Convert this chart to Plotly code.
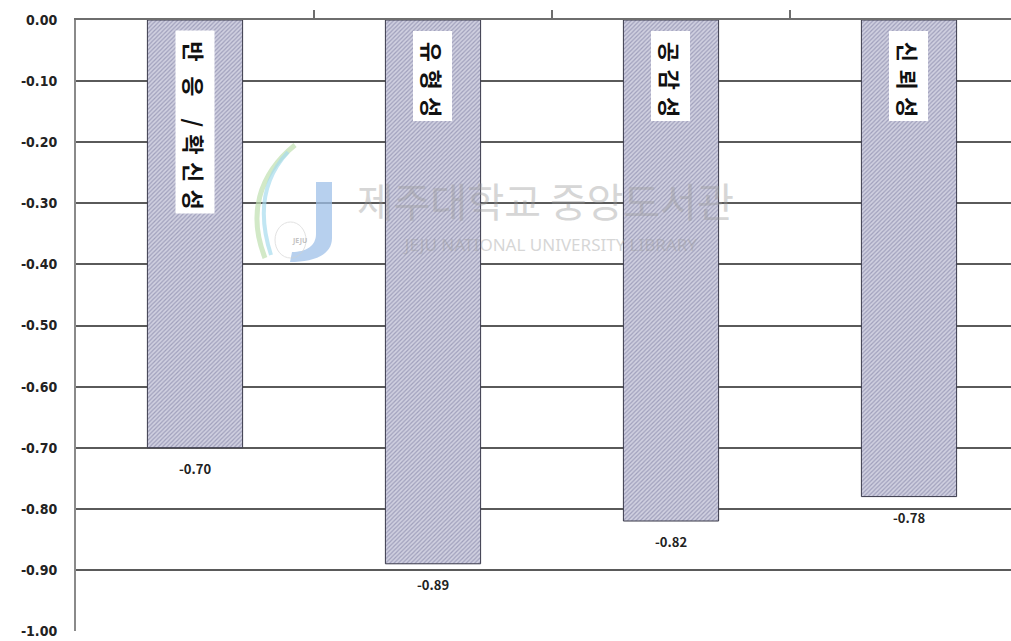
import plotly.graph_objects as go

# Factor names and mean differences
SP = "\u2004"
categories = [
    f"반{SP}{SP}응{SP}{SP}{SP}/{SP}확{SP}신{SP}성",
    f"유{SP}형{SP}성",
    f"공{SP}감{SP}성",
    f"신{SP}뢰{SP}성",
]
values = [-0.70, -0.89, -0.82, -0.78]
value_labels = ["-0.70", "-0.89", "-0.82", "-0.78"]

tick_vals = [0.0, -0.1, -0.2, -0.3, -0.4, -0.5, -0.6, -0.7, -0.8, -0.9, -1.0]
tick_labels = ["0.00", "-0.10", "-0.20", "-0.30", "-0.40", "-0.50",
               "-0.60", "-0.70", "-0.80", "-0.90", "-1.00"]

W, H = 1011, 641
ML, MR, MT, MB = 76, 0, 20, 10
PW, PH = W - ML - MR, H - MT - MB

KFONT = "Noto Sans CJK KR, Noto Sans, sans-serif"

x_idx = list(range(len(categories)))

fig = go.Figure()
fig.add_trace(go.Bar(
    x=x_idx, y=values, width=0.4,
    marker=dict(
        color="#c6c6d8",
        pattern=dict(shape="/", fgcolor="#6e6e96", bgcolor="#d0d0e0",
                     size=3, solidity=0.4),
        line=dict(color="#3a3a4a", width=1),
    ),
    hoverinfo="skip",
))

annotations = []
# value labels under each bar
for i, (v, lab) in enumerate(zip(values, value_labels)):
    annotations.append(dict(
        x=i, y=v, xref="x", yref="y", text=f"<b>{lab}</b>", showarrow=False,
        yanchor="top", yshift=-9,
        font=dict(family=KFONT, size=13, color="#222222"),
    ))

# vertical category names inside the bars
for i, name in enumerate(categories):
    annotations.append(dict(
        x=i, y=0, xref="x", yref="y", text=f"<b>{SP}{name}</b>", showarrow=False,
        textangle=90, xanchor="center", yanchor="top", yshift=-10,
        bgcolor="white", borderpad=3,
        font=dict(family=KFONT, size=22, color="#111111"),
    ))


def px(xp):
    return (xp - ML) / PW


def py(yp):
    return 1 - (yp - MT) / PH


# library watermark
annotations.append(dict(
    x=px(545), y=py(200), xref="paper", yref="paper", showarrow=False,
    text="제주대학교 중앙도서관", opacity=0.4, yanchor="middle",
    font=dict(family=KFONT, size=40, color="#9a9a9a"),
))
annotations.append(dict(
    x=px(550), y=py(244), xref="paper", yref="paper", showarrow=False,
    text="JEJU NATIONAL UNIVERSITY LIBRARY", opacity=0.4, yanchor="middle",
    font=dict(family="Noto Sans, sans-serif", size=17, color="#9a9a9a"),
))
annotations.append(dict(
    x=px(290), y=py(240), xref="paper", yref="paper", showarrow=False,
    text="<b>JEJU</b>", opacity=0.5,
    font=dict(family="Noto Sans, sans-serif", size=7, color="#888888"),
))

shapes = []
# logo: swooshes and a J
shapes.append(dict(
    type="path", xref="paper", yref="paper",
    path=f"M {px(295)},{py(145)} C {px(258)},{py(175)} {px(248)},{py(215)} {px(265)},{py(258)}",
    line=dict(color="#bfe0b0", width=5), opacity=0.7,
))
shapes.append(dict(
    type="path", xref="paper", yref="paper",
    path=f"M {px(288)},{py(152)} C {px(262)},{py(180)} {px(258)},{py(215)} {px(271)},{py(255)}",
    line=dict(color="#a8dcee", width=4), opacity=0.7,
))
shapes.append(dict(
    type="path", xref="paper", yref="paper",
    path=(f"M {px(316)},{py(182)} L {px(332)},{py(182)} L {px(332)},{py(238)} "
          f"C {px(332)},{py(256)} {px(312)},{py(262)} {px(290)},{py(262)} "
          f"L {px(292)},{py(252)} C {px(306)},{py(252)} {px(316)},{py(246)} {px(316)},{py(234)} Z"),
    fillcolor="#9fc0e8", line=dict(width=0), opacity=0.75,
))
shapes.append(dict(
    type="circle", xref="paper", yref="paper",
    x0=px(275), x1=px(306), y0=py(258), y1=py(222),
    line=dict(color="#d0d0d0", width=1), opacity=0.6,
))

fig.update_layout(
    width=W, height=H,
    margin=dict(l=ML, r=MR, t=MT, b=MB),
    paper_bgcolor="white", plot_bgcolor="white",
    showlegend=False, bargap=0.6,
    annotations=annotations, shapes=shapes,
    xaxis=dict(
        range=[-0.5, -0.5 + PW / 238], side="top",
        showline=True, linecolor="#6e6e6e", linewidth=2,
        tickmode="array", tickvals=[0.5, 1.5, 2.5], ticktext=["", "", ""],
        ticks="outside", ticklen=8, tickcolor="#6e6e6e", tickwidth=1.5,
        showgrid=False, zeroline=False, showticklabels=False,
    ),
    yaxis=dict(
        range=[-1.0, 0.0],
        tickmode="array", tickvals=tick_vals, ticktext=tick_labels,
        showline=True, linecolor="#8a8a8a", linewidth=2,
        showgrid=True, gridcolor="#5a5a5a", gridwidth=1.5,
        zeroline=False, ticks="", ticklabelstandoff=14,
        tickfont=dict(family="Liberation Sans Narrow, DejaVu Sans Condensed, sans-serif",
                      size=14, color="#222222", weight="bold"),
    ),
)

fig.write_html("out.html")
